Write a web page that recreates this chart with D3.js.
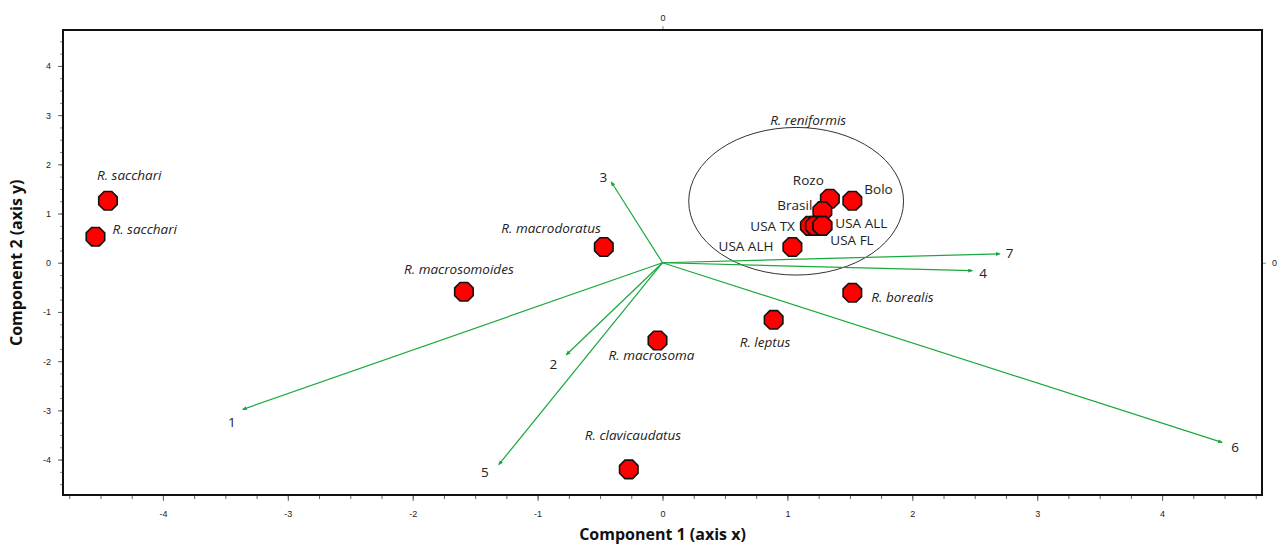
<html>
<head>
    <meta charset="utf-8">
    <style>
        body { margin: 0; background: #fff; }
        svg text { font-family: "Open Sans", sans-serif; }
        .tick-label { font-family: Arial, "Liberation Sans", sans-serif; font-size: 9px; fill: #222; }
    </style>
</head>
<body>
<svg width='1284' height='545'></svg>
<script src='https://cdn.jsdelivr.net/npm/d3@7/dist/d3.min.js'></script>
<script>
    // species / population scores
    const names = ['R. sacchari', 'R. sacchari', 'R. macrodoratus', 'R. macrosomoides', 'R. macrosoma',
        'R. clavicaudatus', 'R. leptus', 'R. borealis', 'Bolo', 'Rozo', 'Brasil', 'USA TX', '', 'USA ALL', 'USA FL', 'USA ALH'];
    const scoreX = [-4.44, -4.54, -0.47, -1.59, -0.04, -0.27, 0.89, 1.52, 1.52, 1.34, 1.28, 1.18, 1.22, 1.28, 1.28, 1.04];
    const scoreY = [1.26, 0.53, 0.32, -0.59, -1.58, -4.20, -1.16, -0.61, 1.26, 1.30, 1.05, 0.75, 0.75, 0.75, 0.75, 0.32];
    const italic = [true, true, true, true, true, true, true, true, false, false, false, false, false, false, false, false];

    // loadings (vectors)
    const vecNames = ['1', '2', '3', '4', '5', '6', '7'];
    const vecX = [-3.36, -0.77, -0.41, 2.48, -1.31, 4.48, 2.70];
    const vecY = [-2.98, -1.87, 1.64, -0.16, -4.10, -3.65, 0.18];

    const xTicks = [-4, -3, -2, -1, 0, 1, 2, 3, 4];
    const yTicks = [-4, -3, -2, -1, 0, 1, 2, 3, 4];

    // label placement (pixel offsets from point, text-anchor)
    const labelPos = [
        [-11, -21, 'start'], [17, -3, 'start'], [-3, -14, 'end'], [-5, -18, 'middle'], [-6, 20, 'middle'],
        [-44, -29, 'start'], [-34, 27, 'start'], [19, 9, 'start'], [12, -7, 'start'], [-37, -14, 'start'],
        [-10, -1, 'end'], [-15, 5, 'end'], [0, 0, 'start'], [13, 2, 'start'], [8, 19, 'start'], [-19, 4, 'end']
    ];
    const vecLabelPos = [[-11, 18], [-13, 14], [-8, 0], [11, 7], [-14, 13], [13, 10], [10, 4]];

    const svg = d3.select('svg');
    const mLeft = 63, mRight = 1262, mTop = 30, mBottom = 495;
    const fs = 13.5;

    const x = d3.scaleLinear().domain([-4.8, 4.8]).range([mLeft, mRight]);
    const y = d3.scaleLinear().domain([-4.72, 4.73]).range([mBottom, mTop]);
    const fmt = d => String(d);

    svg.append('defs').append('marker')
        .attr('id', 'arrow').attr('markerWidth', 6).attr('markerHeight', 6)
        .attr('refX', 4).attr('refY', 2).attr('orient', 'auto').attr('markerUnits', 'userSpaceOnUse')
        .append('path').attr('d', 'M0,0 L0,4 L5,2 z').attr('fill', '#1aa83c');

    // axes
    const minor = d3.range(-4.75, 4.8, 0.25);
    svg.append('g').attr('transform', `translate(0,${mBottom})`)
        .call(d3.axisBottom(x).tickValues(minor).tickSize(4).tickFormat(''))
        .call(g => g.select('.domain').remove())
        .call(g => g.selectAll('line').attr('stroke', '#666'));
    svg.append('g').attr('transform', `translate(0,${mBottom})`)
        .call(d3.axisBottom(x).tickValues(xTicks).tickSize(6).tickPadding(10).tickFormat(fmt))
        .call(g => g.select('.domain').remove())
        .call(g => g.selectAll('line').attr('stroke', '#666'))
        .call(g => g.selectAll('text').attr('class', 'tick-label'));

    const yMinor = d3.range(-4.5, 4.6, 0.25);
    svg.append('g').attr('transform', `translate(${mLeft},0)`)
        .call(d3.axisLeft(y).tickValues(yMinor).tickSize(3).tickFormat(''))
        .call(g => g.select('.domain').remove())
        .call(g => g.selectAll('line').attr('stroke', '#888'));
    svg.append('g').attr('transform', `translate(${mLeft},0)`)
        .call(d3.axisLeft(y).tickValues(yTicks).tickSize(5).tickPadding(7).tickFormat(fmt))
        .call(g => g.select('.domain').remove())
        .call(g => g.selectAll('line').attr('stroke', '#666'))
        .call(g => g.selectAll('text').attr('class', 'tick-label'));

    svg.append('g').attr('transform', `translate(0,${mTop})`)
        .call(d3.axisTop(x).tickValues([0]).tickSize(4).tickPadding(5).tickFormat(fmt))
        .call(g => g.select('.domain').remove())
        .call(g => g.selectAll('line').attr('stroke', '#888'))
        .call(g => g.selectAll('text').attr('class', 'tick-label'));
    svg.append('g').attr('transform', `translate(${mRight},0)`)
        .call(d3.axisRight(y).tickValues([0]).tickSize(4).tickPadding(6).tickFormat(fmt))
        .call(g => g.select('.domain').remove())
        .call(g => g.selectAll('line').attr('stroke', '#888'))
        .call(g => g.selectAll('text').attr('class', 'tick-label'));

    svg.append('rect')
        .attr('x', mLeft).attr('y', mTop).attr('width', mRight - mLeft).attr('height', mBottom - mTop)
        .attr('fill', 'none').attr('stroke', '#111').attr('stroke-width', 2);

    // ellipse around R. reniformis
    svg.append('ellipse')
        .attr('cx', x(1.07)).attr('cy', y(1.25))
        .attr('rx', x(0.86) - x(0)).attr('ry', y(0) - y(1.5))
        .attr('fill', 'none').attr('stroke', '#333').attr('stroke-width', 1);
    svg.append('text').attr('x', x(1.07) + 12).attr('y', y(2.8)).attr('text-anchor', 'middle')
        .attr('font-size', fs).attr('font-style', 'italic').attr('fill', '#222').text('R. reniformis');

    // vectors
    vecNames.forEach((n, i) => {
        svg.append('line')
            .attr('x1', x(0)).attr('y1', y(0))
            .attr('x2', x(vecX[i])).attr('y2', y(vecY[i]))
            .attr('stroke', '#1aa83c').attr('stroke-width', 1.2)
            .attr('marker-end', 'url(#arrow)');
        svg.append('text')
            .attr('x', x(vecX[i]) + vecLabelPos[i][0]).attr('y', y(vecY[i]) + vecLabelPos[i][1])
            .attr('text-anchor', 'middle').attr('font-size', fs).attr('fill', '#222').text(n);
    });

    // points (octagons)
    const r = 10;
    const octagon = d3.range(8).map(k => {
        const a = Math.PI / 8 + k * Math.PI / 4;
        return [r * Math.cos(a), r * Math.sin(a)];
    });
    const oct = 'M' + octagon.map(p => p.join(',')).join('L') + 'Z';

    names.forEach((n, i) => {
        svg.append('path')
            .attr('d', oct)
            .attr('transform', `translate(${x(scoreX[i])},${y(scoreY[i])})`)
            .attr('fill', '#ff0000').attr('stroke', '#111').attr('stroke-width', 1.6);
    });
    names.forEach((n, i) => {
        if (!n) return;
        svg.append('text')
            .attr('x', x(scoreX[i]) + labelPos[i][0]).attr('y', y(scoreY[i]) + labelPos[i][1])
            .attr('text-anchor', labelPos[i][2])
            .attr('font-size', fs)
            .attr('font-style', italic[i] ? 'italic' : 'normal')
            .attr('fill', '#222')
            .text(n);
    });

    // axis titles
    svg.append('text').attr('x', x(0)).attr('y', 540).attr('text-anchor', 'middle')
        .attr('font-size', 16).attr('font-weight', 'bold').attr('fill', '#111').text('Component 1 (axis x)');
    svg.append('text').attr('transform', `translate(22,${y(0)}) rotate(-90)`).attr('text-anchor', 'middle')
        .attr('font-size', 16).attr('font-weight', 'bold').attr('fill', '#111').text('Component 2 (axis y)');
</script>
</body>
</html>
